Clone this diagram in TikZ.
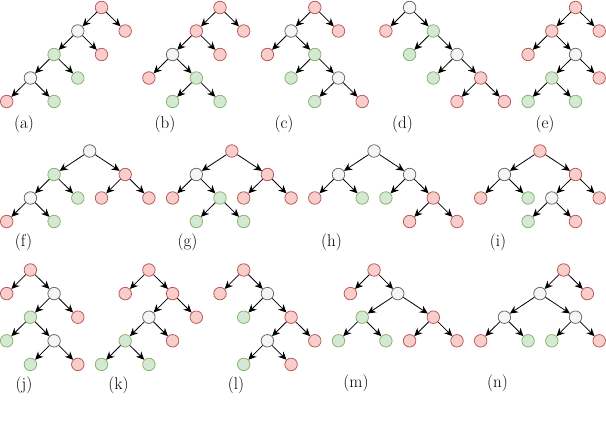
\documentclass[tikz,border=0pt]{standalone}
\usetikzlibrary{arrows.meta}
\definecolor{redF}{HTML}{F8CECC}
\definecolor{redS}{HTML}{B85450}
\definecolor{grnF}{HTML}{D5E8D4}
\definecolor{grnS}{HTML}{82B366}
\definecolor{gryF}{HTML}{F5F5F5}
\definecolor{gryS}{HTML}{666666}
\tikzset{
  basenode/.style={circle, minimum size=12.5pt, inner sep=0pt, line width=0.75pt},
  rnode/.style={basenode, draw=redS, fill=redF},
  gnode/.style={basenode, draw=grnS, fill=grnF},
  wnode/.style={basenode, draw=gryS, fill=gryF},
  arr/.style={-{Stealth[length=8pt,width=7.5pt]}, line width=0.8pt, black},
  lab/.style={inner sep=0pt, font=\fontsize{17}{19}\selectfont},
}
\begin{document}
\begin{tikzpicture}
\useasboundingbox (0,0) rectangle (606pt,-428pt);
% ---------- row 1
\begin{scope}[shift={(6.7pt,-7.5pt)}, x=23.7pt, y=-23.5pt]
% (a)
\node[rnode] (a1) at (4,0) {};
\node[wnode] (a2) at (3,1) {};
\node[rnode] (a3) at (5,1) {};
\node[gnode] (a4) at (2,2) {};
\node[rnode] (a5) at (4,2) {};
\node[wnode] (a6) at (1,3) {};
\node[gnode] (a7) at (3,3) {};
\node[rnode] (a8) at (0,4) {};
\node[gnode] (a9) at (2,4) {};
% (b)
\node[rnode] (b1) at (9,0) {};
\node[rnode] (b2) at (8,1) {};
\node[rnode] (b3) at (10,1) {};
\node[wnode] (b4) at (7,2) {};
\node[rnode] (b5) at (9,2) {};
\node[rnode] (b6) at (6,3) {};
\node[gnode] (b7) at (8,3) {};
\node[gnode] (b8) at (7,4) {};
\node[gnode] (b9) at (9,4) {};
% (c)
\node[rnode] (c1) at (13,0) {};
\node[wnode] (c2) at (12,1) {};
\node[rnode] (c3) at (14,1) {};
\node[rnode] (c4) at (11,2) {};
\node[gnode] (c5) at (13,2) {};
\node[gnode] (c6) at (12,3) {};
\node[wnode] (c7) at (14,3) {};
\node[gnode] (c8) at (13,4) {};
\node[rnode] (c9) at (15,4) {};
% (d)
\node[wnode] (d1) at (17,0) {};
\node[rnode] (d2) at (16,1) {};
\node[gnode] (d3) at (18,1) {};
\node[gnode] (d4) at (17,2) {};
\node[wnode] (d5) at (19,2) {};
\node[gnode] (d6) at (18,3) {};
\node[rnode] (d7) at (20,3) {};
\node[rnode] (d8) at (19,4) {};
\node[rnode] (d9) at (21,4) {};
% (e)
\node[rnode] (e1) at (24,0) {};
\node[rnode] (e2) at (23,1) {};
\node[rnode] (e3) at (25,1) {};
\node[rnode] (e4) at (22,2) {};
\node[wnode] (e5) at (24,2) {};
\node[gnode] (e6) at (23,3) {};
\node[rnode] (e7) at (25,3) {};
\node[gnode] (e8) at (22,4) {};
\node[gnode] (e9) at (24,4) {};
\end{scope}
% ---------- row 2
\begin{scope}[shift={(6.7pt,-151pt)}, x=23.7pt, y=-23.5pt]
% (f)
\node[wnode] (f1) at (3.5,0) {};
\node[gnode] (f2) at (2,1) {};
\node[rnode] (f3) at (5,1) {};
\node[wnode] (f4) at (1,2) {};
\node[gnode] (f5) at (3,2) {};
\node[rnode] (f6) at (4,2) {};
\node[rnode] (f7) at (6,2) {};
\node[rnode] (f8) at (0,3) {};
\node[gnode] (f9) at (2,3) {};
% (g)
\node[rnode] (g1) at (9.5,0) {};
\node[wnode] (g2) at (8,1) {};
\node[rnode] (g3) at (11,1) {};
\node[rnode] (g4) at (7,2) {};
\node[gnode] (g5) at (9,2) {};
\node[rnode] (g6) at (10,2) {};
\node[rnode] (g7) at (12,2) {};
\node[gnode] (g8) at (8,3) {};
\node[gnode] (g9) at (10,3) {};
% (h)
\node[wnode] (h1) at (15.5,0) {};
\node[wnode] (h2) at (14,1) {};
\node[wnode] (h3) at (17,1) {};
\node[rnode] (h4) at (13,2) {};
\node[gnode] (h5) at (15,2) {};
\node[gnode] (h6) at (16,2) {};
\node[rnode] (h7) at (18,2) {};
\node[rnode] (h8) at (17,3) {};
\node[rnode] (h9) at (19,3) {};
% (i)
\node[rnode] (i1) at (22.5,0) {};
\node[wnode] (i2) at (21,1) {};
\node[rnode] (i3) at (24,1) {};
\node[rnode] (i4) at (20,2) {};
\node[gnode] (i5) at (22,2) {};
\node[wnode] (i6) at (23,2) {};
\node[rnode] (i7) at (25,2) {};
\node[gnode] (i8) at (22,3) {};
\node[rnode] (i9) at (24,3) {};
\end{scope}
% ---------- row 3
\begin{scope}[shift={(6.7pt,-270pt)}, x=23.7pt, y=-23.6pt]
% (j)
\node[rnode] (j1) at (1,0) {};
\node[rnode] (j2) at (0,1) {};
\node[wnode] (j3) at (2,1) {};
\node[gnode] (j4) at (1,2) {};
\node[rnode] (j5) at (3,2) {};
\node[gnode] (j6) at (0,3) {};
\node[wnode] (j7) at (2,3) {};
\node[gnode] (j8) at (1,4) {};
\node[rnode] (j9) at (3,4) {};
% (k)
\node[rnode] (k1) at (6,0) {};
\node[rnode] (k2) at (5,1) {};
\node[rnode] (k3) at (7,1) {};
\node[wnode] (k4) at (6,2) {};
\node[rnode] (k5) at (8,2) {};
\node[gnode] (k6) at (5,3) {};
\node[rnode] (k7) at (7,3) {};
\node[gnode] (k8) at (4,4) {};
\node[gnode] (k9) at (6,4) {};
% (l)
\node[rnode] (l1) at (10,0) {};
\node[rnode] (l2) at (9,1) {};
\node[wnode] (l3) at (11,1) {};
\node[gnode] (l4) at (10,2) {};
\node[rnode] (l5) at (12,2) {};
\node[wnode] (l6) at (11,3) {};
\node[rnode] (l7) at (13,3) {};
\node[gnode] (l8) at (10,4) {};
\node[rnode] (l9) at (12,4) {};
% (m)
\node[rnode] (m1) at (15.5,0) {};
\node[rnode] (m2) at (14.5,1) {};
\node[wnode] (m3) at (16.5,1) {};
\node[gnode] (m4) at (15,2) {};
\node[rnode] (m5) at (18,2) {};
\node[gnode] (m6) at (14,3) {};
\node[gnode] (m7) at (16,3) {};
\node[rnode] (m8) at (17,3) {};
\node[rnode] (m9) at (19,3) {};
% (n)
\node[rnode] (n1) at (23.5,0) {};
\node[wnode] (n2) at (22.5,1) {};
\node[rnode] (n3) at (24.5,1) {};
\node[wnode] (n4) at (21,2) {};
\node[wnode] (n5) at (24,2) {};
\node[rnode] (n6) at (20,3) {};
\node[gnode] (n7) at (22,3) {};
\node[gnode] (n8) at (23,3) {};
\node[rnode] (n9) at (25,3) {};
\end{scope}
% ---------- edges
\foreach \p/\c in {a1/a2,a1/a3,a2/a4,a2/a5,a4/a6,a4/a7,a6/a8,a6/a9,
  b1/b2,b1/b3,b2/b4,b2/b5,b4/b6,b4/b7,b7/b8,b7/b9,
  c1/c2,c1/c3,c2/c4,c2/c5,c5/c6,c5/c7,c7/c8,c7/c9,
  d1/d2,d1/d3,d3/d4,d3/d5,d5/d6,d5/d7,d7/d8,d7/d9,
  e1/e2,e1/e3,e2/e4,e2/e5,e5/e6,e5/e7,e6/e8,e6/e9,
  f1/f2,f1/f3,f2/f4,f2/f5,f3/f6,f3/f7,f4/f8,f4/f9,
  g1/g2,g1/g3,g2/g4,g2/g5,g3/g6,g3/g7,g5/g8,g5/g9,
  h1/h2,h1/h3,h2/h4,h2/h5,h3/h6,h3/h7,h7/h8,h7/h9,
  i1/i2,i1/i3,i2/i4,i2/i5,i3/i6,i3/i7,i6/i8,i6/i9,
  j1/j2,j1/j3,j3/j4,j3/j5,j4/j6,j4/j7,j7/j8,j7/j9,
  k1/k2,k1/k3,k3/k4,k3/k5,k4/k6,k4/k7,k6/k8,k6/k9,
  l1/l2,l1/l3,l3/l4,l3/l5,l5/l6,l5/l7,l6/l8,l6/l9,
  m1/m2,m1/m3,m3/m4,m3/m5,m4/m6,m4/m7,m5/m8,m5/m9,
  n1/n2,n1/n3,n2/n4,n2/n5,n4/n6,n4/n7,n5/n8,n5/n9}
  \draw[arr] (\p) -- (\c);
% ---------- labels
\node[lab] (la) at (24pt,-124pt) {(a)};
\node[lab] (lb) at (165pt,-124pt) {(b)};
\node[lab] (lc) at (284pt,-124pt) {(c)};
\node[lab] (ld) at (402.5pt,-124pt) {(d)};
\node[lab] (le) at (545pt,-124pt) {(e)};
\node[lab] (lf) at (23.5pt,-242.5pt) {(f)};
\node[lab] (lg) at (187.5pt,-242.5pt) {(g)};
\node[lab] (lh) at (331.5pt,-242.5pt) {(h)};
\node[lab] (li) at (498pt,-242.5pt) {(i)};
\node[lab] (lj) at (24pt,-385pt) {(j)};
\node[lab] (lk) at (118.5pt,-385pt) {(k)};
\node[lab] (ll) at (236pt,-385pt) {(l)};
\node[lab] (lm) at (356pt,-383pt) {(m)};
\node[lab] (ln) at (497.5pt,-383pt) {(n)};
\end{tikzpicture}
\end{document}
